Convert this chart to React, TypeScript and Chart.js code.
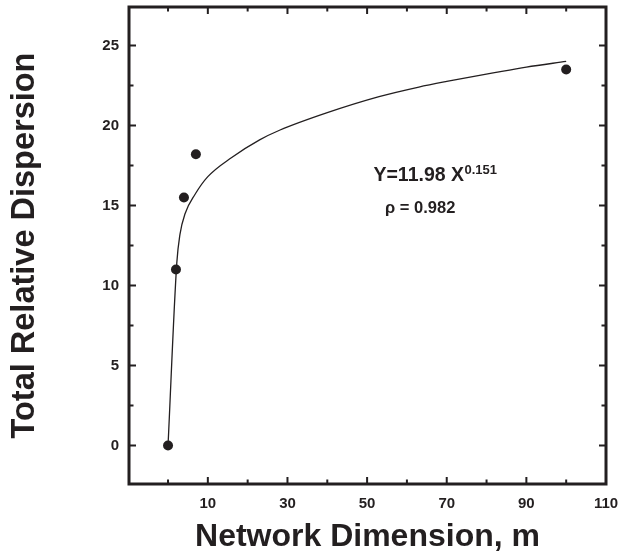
import React, { useEffect, useRef } from "react";
import { Chart, registerables } from "chart.js";

Chart.register(...registerables);

// Observed data points
const xObserved = [0, 2, 4, 7, 100];
const yObserved = [0, 11, 15.5, 18.2, 23.5];

// Fitted power curve
const xFit = [0, 2.2, 3, 4.3, 6.8, 10, 16, 23, 28, 40, 53, 63, 70, 82, 90, 100];
const yFit = [0, 11.4, 13.2, 14.5, 15.7, 16.8, 18.0, 19.1, 19.7, 20.8, 21.8, 22.4, 22.75, 23.3, 23.65, 24.0];

// Axis ticks
const xLabeledTicks = [10, 30, 50, 70, 90, 110];
const xMinorTicks = [0, 20, 40, 60, 80, 100];
const yLabeledTicks = [0, 5, 10, 15, 20, 25];
const yMinorTicks = [2.5, 7.5, 12.5, 17.5, 22.5];

const xTitle = "Network Dimension, m";
const yTitle = "Total Relative Dispersion";

const equationMain = "Y=11.98 X";
const equationExp = "0.151";
const rhoText = "\u03C1 = 0.982";
// annotation anchors in data units
const equationAt = { x: 51.6, y: 16.56 };
const rhoAt = { x: 54.5, y: 14.52 };

const INK = "#231f20";
const FONT = "'Liberation Sans', Arial, Helvetica, sans-serif";

const framePlugin = {
  id: "framePlugin",
  afterDraw(chart: any) {
    const { ctx, chartArea, scales } = chart;
    const xs = scales.x;
    const ys = scales.y;
    const { left, right, top, bottom } = chartArea;
    ctx.save();
    ctx.strokeStyle = INK;
    ctx.fillStyle = INK;
    // tick marks (inward)
    ctx.lineWidth = 2;
    const drawX = (v: number, len: number) => {
      const px = xs.getPixelForValue(v);
      ctx.beginPath();
      ctx.moveTo(px, bottom);
      ctx.lineTo(px, bottom - len);
      ctx.moveTo(px, top);
      ctx.lineTo(px, top + len);
      ctx.stroke();
    };
    const drawY = (v: number, len: number) => {
      const py = ys.getPixelForValue(v);
      ctx.beginPath();
      ctx.moveTo(left, py);
      ctx.lineTo(left + len, py);
      ctx.moveTo(right, py);
      ctx.lineTo(right - len, py);
      ctx.stroke();
    };
    xLabeledTicks.forEach((v) => drawX(v, 7));
    xMinorTicks.forEach((v) => drawX(v, 4.5));
    yLabeledTicks.forEach((v) => drawY(v, 7));
    yMinorTicks.forEach((v) => drawY(v, 4.5));
    // frame
    ctx.lineWidth = 3;
    ctx.strokeRect(left, top, right - left, bottom - top);

    // annotations
    ctx.textAlign = "left";
    ctx.textBaseline = "alphabetic";
    ctx.font = `bold 19.5px ${FONT}`;
    const ex = xs.getPixelForValue(equationAt.x);
    const ey = ys.getPixelForValue(equationAt.y);
    ctx.fillText(equationMain, ex, ey);
    const w = ctx.measureText(equationMain).width;
    ctx.font = `bold 13px ${FONT}`;
    ctx.fillText(equationExp, ex + w + 0.5, ey - 6.7);
    ctx.font = `bold 16.5px ${FONT}`;
    ctx.fillText(rhoText, xs.getPixelForValue(rhoAt.x), ys.getPixelForValue(rhoAt.y));
    ctx.restore();
  },
};

const zeroPadding = (scale: any) => {
  scale.paddingTop = 0;
  scale.paddingBottom = 0;
  scale.paddingLeft = 0;
  scale.paddingRight = 0;
};

export default function App() {
  const canvasRef = useRef<HTMLCanvasElement | null>(null);

  useEffect(() => {
    const canvas = canvasRef.current;
    if (!canvas) return;
    const chart = new Chart(canvas, {
      type: "scatter",
      data: {
        datasets: [
          {
            label: "fit",
            data: xFit.map((x, i) => ({ x, y: yFit[i] })),
            showLine: true,
            borderColor: INK,
            borderWidth: 1.3,
            pointRadius: 0,
            cubicInterpolationMode: "monotone",
            fill: false,
          } as any,
          {
            label: "observed",
            data: xObserved.map((x, i) => ({ x, y: yObserved[i] })),
            backgroundColor: INK,
            borderColor: INK,
            pointRadius: 5,
            pointBorderWidth: 0,
            showLine: false,
          },
        ],
      },
      options: {
        animation: false,
        responsive: false,
        events: [],
        layout: { padding: { top: 7, right: 26, left: 0, bottom: 0 } },
        plugins: {
          legend: { display: false },
          tooltip: { enabled: false },
        },
        scales: {
          x: {
            type: "linear",
            min: -9.8,
            max: 110,
            grid: { display: false, drawTicks: false },
            border: { display: false },
            afterBuildTicks: (scale: any) => {
              scale.ticks = xLabeledTicks.map((v) => ({ value: v }));
            },
            afterFit: (scale: any) => {
              scale.height = 71;
              zeroPadding(scale);
            },
            ticks: {
              autoSkip: false,
              maxRotation: 0,
              padding: 11,
              color: INK,
              font: { family: FONT, size: 15, weight: "bold" },
            },
            title: {
              display: true,
              text: xTitle,
              color: INK,
              font: { family: FONT, size: 32, weight: "bold", lineHeight: 1 },
              padding: { top: 0, bottom: 1.8 },
            },
          },
          y: {
            type: "linear",
            min: -2.4,
            max: 27.4,
            grid: { display: false, drawTicks: false },
            border: { display: false },
            afterBuildTicks: (scale: any) => {
              scale.ticks = yLabeledTicks.map((v) => ({ value: v }));
            },
            afterFit: (scale: any) => {
              scale.width = 129;
              zeroPadding(scale);
            },
            ticks: {
              autoSkip: false,
              padding: 10,
              color: INK,
              font: { family: FONT, size: 15, weight: "bold" },
            },
            title: {
              display: true,
              text: yTitle,
              color: INK,
              font: { family: FONT, size: 32.5, weight: "bold", lineHeight: 1 },
              padding: { top: 8.6, bottom: 0 },
            },
          },
        },
      } as any,
      plugins: [framePlugin],
    });
    return () => chart.destroy();
  }, []);

  return (
    <div style={{ position: "fixed", left: 0, top: 0, width: 632, height: 555, background: "#fff" }}>
      <canvas ref={canvasRef} width={632} height={555} style={{ display: "block" }} />
    </div>
  );
}
